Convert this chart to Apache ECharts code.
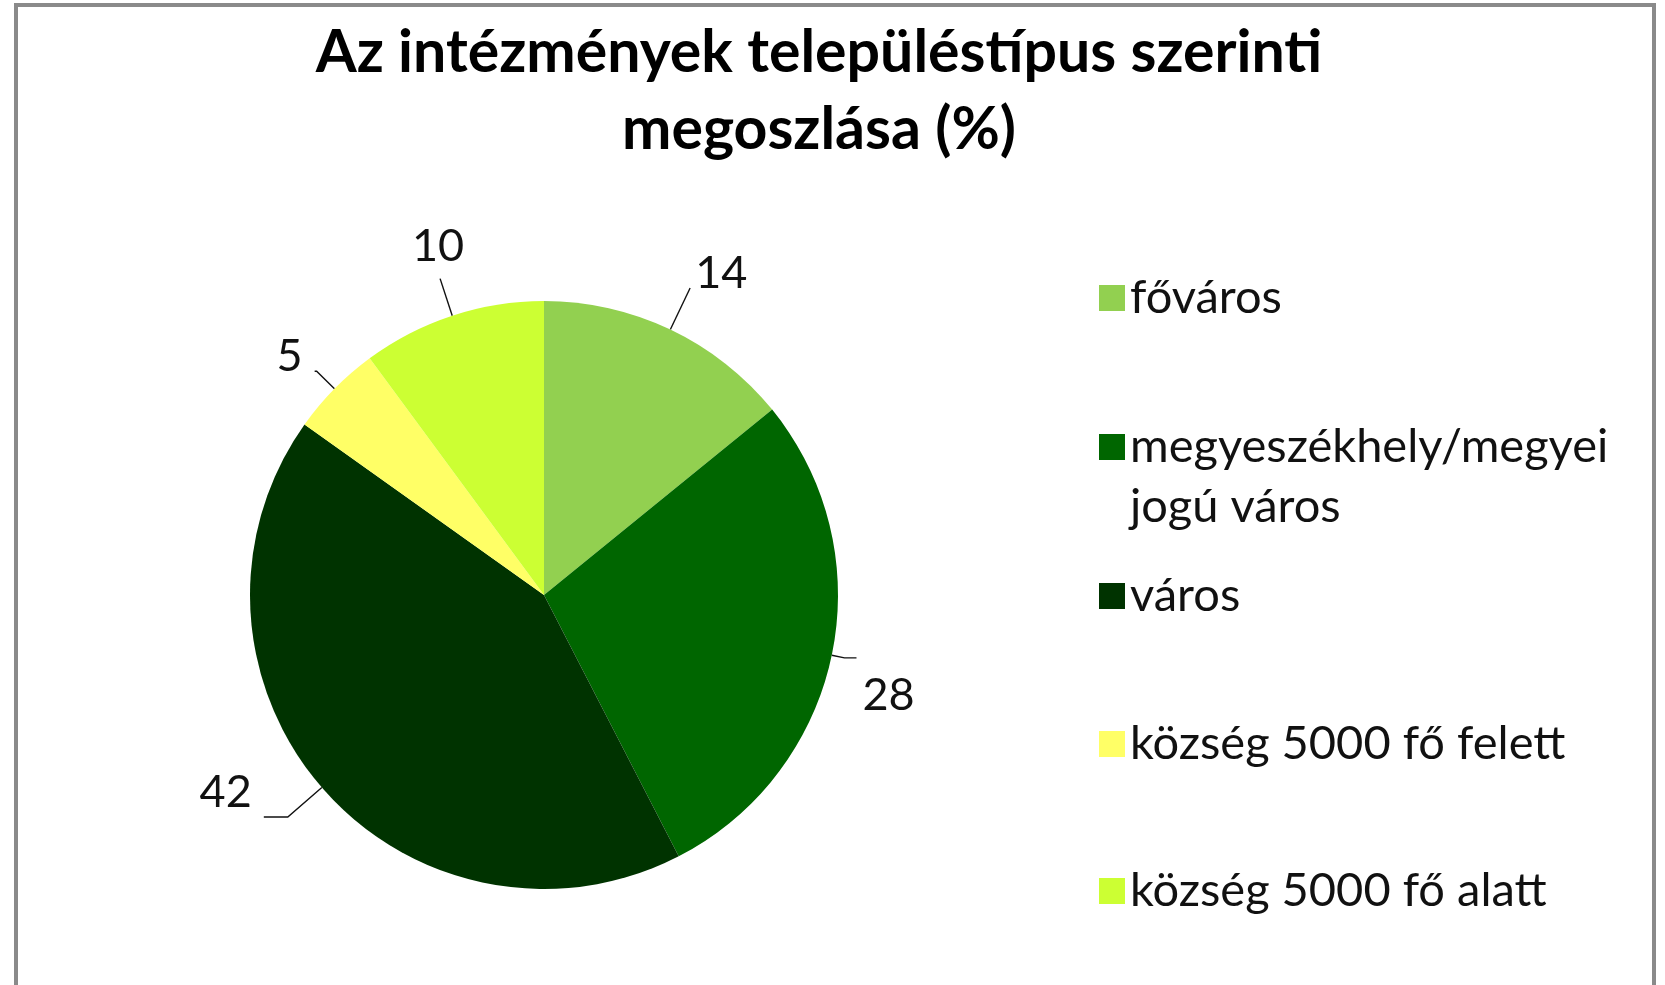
<!DOCTYPE html>
<html>
<head>
<meta charset="utf-8">
<title>Az intézmények településtípus szerinti megoszlása</title>
<script src="https://cdn.jsdelivr.net/npm/echarts@6/dist/echarts.min.js"></script>
<style>
	html, body { margin: 0; padding: 0; background: #fff; }
	#main { position: absolute; left: 0; top: 0; width: 1665px; height: 985px; }
	#frame {
		position: absolute; left: 14px; top: 3px; width: 1642px; height: 990px;
		border: 4px solid #8a8a8a; border-bottom: none; box-sizing: border-box;
	}
</style>
</head>
<body>
<div id="frame"></div>
<div id="main"></div>
<script>
/**
 * 数据
 * **/
var categories = ['főváros', 'megyeszékhely/megyei\njogú város', 'város', 'község 5000 fő felett', 'község 5000 fő alatt'];
var values = [14, 28, 42, 5, 10];
var colors = ['#92d050', '#006600', '#003300', '#ffff66', '#ccff33'];
// label line per slice: [length, length2, distance to line]
var lineLens = [[46, 0, 5], [13, 12, 6], [45, 24, 12], [25, 2, 12], [39, 0, -24]];
// vertical shift of each number off its line end (px, minus = up)
var labelShift = [-15, 38, -25, -15, -32];
// legend rows, centre of first text line (px)
var legendRows = [293, 442, 591, 739, 886];

var FONT = 'Lato, Carlito, Calibri, sans-serif';
var myChart = echarts.init(document.getElementById('main'));

var legends = [];
for (var i = 0; i < categories.length; i++) {
	var twoLine = categories[i].indexOf('\n') >= 0;
	legends.push({
		orient: 'vertical',
		left: 1094,
		top: twoLine ? legendRows[i] - 90 : legendRows[i] - 30,
		itemWidth: 26,
		itemHeight: 26,
		itemGap: 12,
		selectedMode: false,
		icon: 'rect',
		// blank first line keeps the square level with the first text line
		formatter: twoLine ? function(name) { return ' \n' + name; } : '{name}',
		textStyle: {
			fontFamily: FONT,
			fontSize: 47,
			color: '#111',
			lineHeight: 60
		},
		data: [categories[i]]
	});
}

var pieData = [];
for (var j = 0; j < values.length; j++) {
	pieData.push({
		name: categories[j],
		value: values[j],
		itemStyle: { color: colors[j] },
		label: {
			distanceToLabelLine: lineLens[j][2],
			lineHeight: Math.abs(labelShift[j]) * 2
		},
		labelLine: { length: lineLens[j][0], length2: lineLens[j][1] }
	});
}

var option = {
	animation: false,
	title: {
		text: 'Az intézmények településtípus szerinti\nmegoszlása (%)',
		left: 819,
		top: 14,
		textAlign: 'center',
		padding: 0,
		textStyle: {
			fontFamily: FONT,
			fontSize: 59,
			fontWeight: 'bold',
			color: '#000',
			lineHeight: 77
		}
	},
	legend: legends,
	series: [{
		type: 'pie',
		radius: 294,
		center: [544, 595],
		startAngle: 90,
		clockwise: true,
		avoidLabelOverlap: false,
		label: {
			show: true,
			position: 'outside',
			// an empty line above or below moves the number off the line end
			formatter: function(params) {
				var s = labelShift[params.dataIndex];
				return s < 0 ? params.value + '\n ' : ' \n' + params.value;
			},
			fontFamily: FONT,
			fontSize: 45,
			color: '#111'
		},
		labelLine: {
			show: true,
			lineStyle: { color: '#111', width: 1.4 }
		},
		emphasis: { disabled: true },
		data: pieData
	}]
};
myChart.setOption(option);
</script>
</body>
</html>
